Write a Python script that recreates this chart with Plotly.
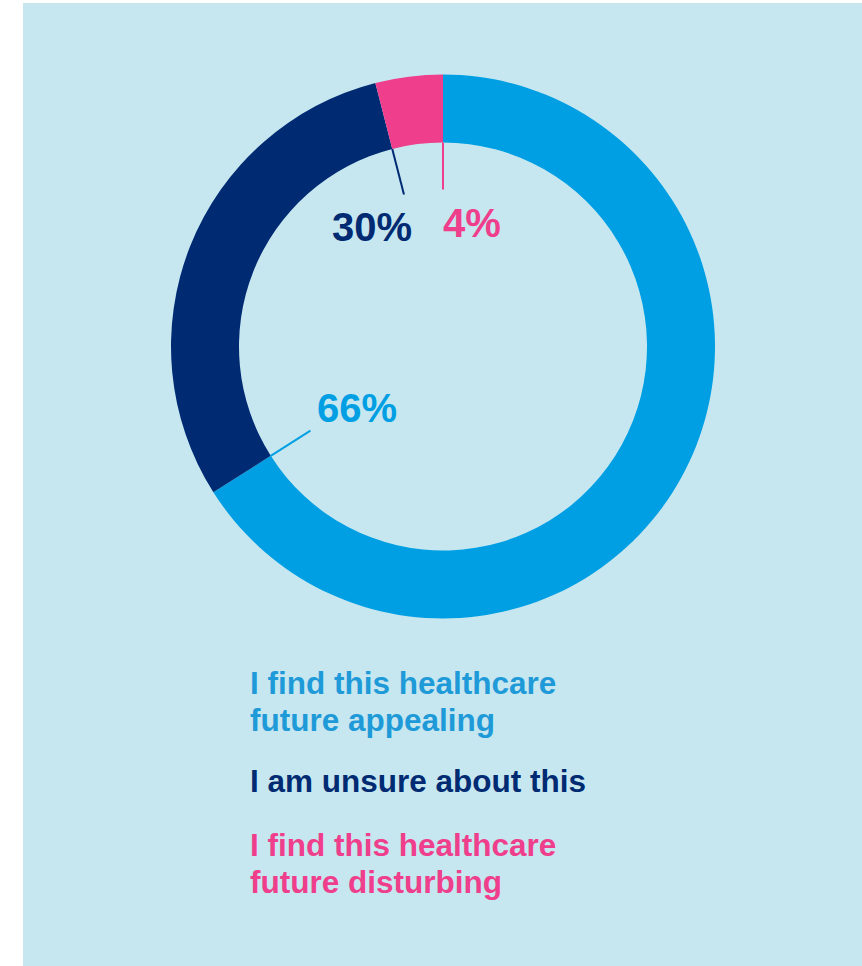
import math
import plotly.graph_objects as go

# Survey responses (share of respondents, %)
categories = [
    "I find this healthcare future appealing",
    "I am unsure about this",
    "I find this healthcare future disturbing",
]
values = [66, 30, 4]
value_labels = ["66%", "30%", "4%"]
legend_lines = [
    ["I find this healthcare", "future appealing"],
    ["I am unsure about this"],
    ["I find this healthcare", "future disturbing"],
]

slice_colors = ["#009fe3", "#002b73", "#ef3e8b"]
text_colors = ["#1f9ad8", "#002b73", "#ef3e8b"]
panel_bg = "#c6e7f0"

W, H = 862, 966
FONT = "Liberation Sans, Arial, sans-serif"

# donut geometry in pixels
cx, cy, R = 443, 346.5, 272
hole = 0.75


def px(x):
    return x / W


def py(y):
    return 1 - y / H


fig = go.Figure(
    go.Pie(
        labels=categories,
        values=values,
        sort=False,
        direction="clockwise",
        rotation=0,
        hole=hole,
        marker=dict(colors=slice_colors, line=dict(width=0)),
        textinfo="none",
        hoverinfo="label+percent",
        showlegend=False,
        domain=dict(x=[px(cx - R), px(cx + R)], y=[py(cy + R), py(cy - R)]),
    )
)

shapes = [
    # panel background
    dict(type="rect", xref="paper", yref="paper", x0=px(23), x1=1, y0=0, y1=py(3),
         fillcolor=panel_bg, line=dict(width=0), layer="below"),
]

# leader lines: radial ticks inside the hole at each slice's closing edge
total = sum(values)
cum = 0
r_in, r_tick = R * hole, R * hole - 47
ends = []
for v, col in zip(values, slice_colors):
    cum += v
    ang = math.radians(cum / total * 360)
    x0, y0 = cx + r_in * math.sin(ang), cy - r_in * math.cos(ang)
    x1, y1 = cx + r_tick * math.sin(ang), cy - r_tick * math.cos(ang)
    ends.append((x1, y1))
    shapes.append(dict(type="line", xref="paper", yref="paper",
                       x0=px(x0), y0=py(y0), x1=px(x1), y1=py(y1),
                       line=dict(color=col, width=2)))

# value label placement relative to the tick end (dx, dy, xanchor)
label_offsets = [(5, -23, "left"), (10, 33, "right"), (-2, 34, "left")]
annotations = []
for (ex, ey), lab, col, (dx, dy, xa) in zip(ends, value_labels, slice_colors, label_offsets):
    annotations.append(dict(
        x=px(ex + dx), y=py(ey + dy), xref="paper", yref="paper",
        xanchor=xa, yanchor="middle", showarrow=False, text=f"<b>{lab}</b>",
        font=dict(family=FONT, size=40, color=col),
    ))

# category key below the donut
line_y = [[683, 720], [781], [845, 882]]
for lines, ys, col in zip(legend_lines, line_y, text_colors):
    for txt, y in zip(lines, ys):
        annotations.append(dict(
            x=px(248), y=py(y), xref="paper", yref="paper",
            xanchor="left", yanchor="middle", showarrow=False, text=f"<b>{txt}</b>",
            font=dict(family=FONT, size=31.5, color=col),
        ))

fig.update_layout(
    width=W, height=H,
    margin=dict(l=0, r=0, t=0, b=0),
    paper_bgcolor="white",
    plot_bgcolor="white",
    shapes=shapes,
    annotations=annotations,
)

fig.write_html("out.html")
